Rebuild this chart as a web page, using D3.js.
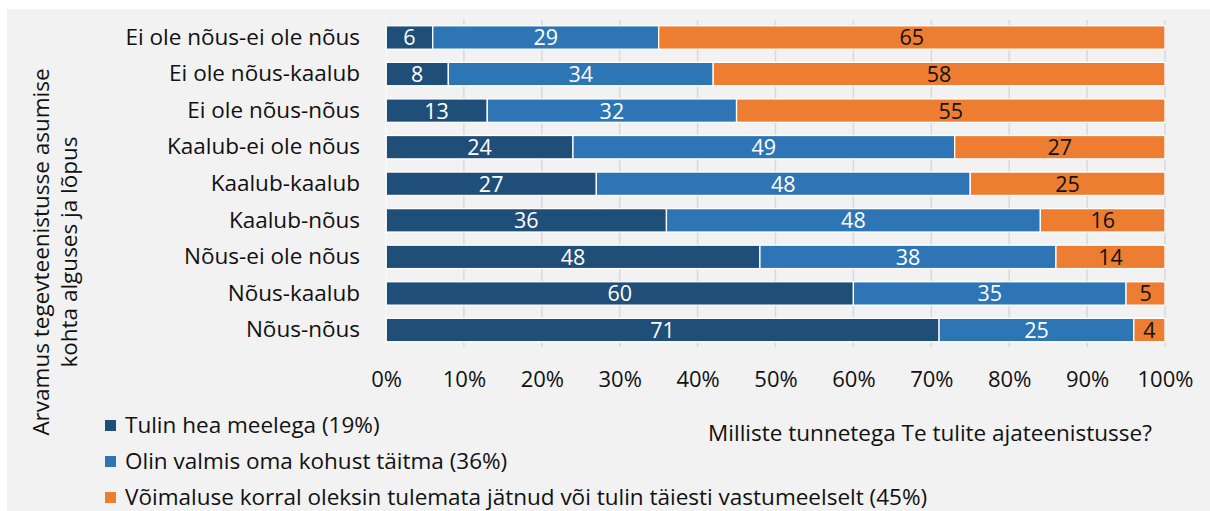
<!DOCTYPE html>
<html>
<head>
<meta charset="utf-8">
<script src="https://cdn.jsdelivr.net/npm/d3@7"></script>
<style>
  html, body { margin: 0; padding: 0; background: #ffffff; }
  svg { display: block; }
  text { font-family: "Open Sans", "Noto Sans", sans-serif; }
</style>
</head>
<body>
<svg id="chart" width="1210" height="511"></svg>
<script>
// Opinion on joining active service, at the start and end
const categories = [
  "Ei ole nõus-ei ole nõus",
  "Ei ole nõus-kaalub",
  "Ei ole nõus-nõus",
  "Kaalub-ei ole nõus",
  "Kaalub-kaalub",
  "Kaalub-nõus",
  "Nõus-ei ole nõus",
  "Nõus-kaalub",
  "Nõus-nõus"
];

const seriesNames = [
  "Tulin hea meelega (19%)",
  "Olin valmis oma kohust täitma (36%)",
  "Võimaluse korral oleksin tulemata jätnud või tulin täiesti vastumeelselt (45%)"
];

const gladly   = [6, 8, 13, 24, 27, 36, 48, 60, 71];
const dutiful  = [29, 34, 32, 49, 48, 48, 38, 35, 25];
const reluctant = [65, 58, 55, 27, 25, 16, 14, 5, 4];

const tickValues = [0, 0.1, 0.2, 0.3, 0.4, 0.5, 0.6, 0.7, 0.8, 0.9, 1.0];

const colors = ["#1f4e79", "#2e75b6", "#ed7d31"];
const labelColors = ["#ffffff", "#ffffff", "#111111"];

const FONT = '"Open Sans", "Noto Sans", sans-serif';
const svg = d3.select("#chart");

// panel background
svg.append("rect")
  .attr("x", 7).attr("y", 9)
  .attr("width", 1210 - 7).attr("height", 511 - 9)
  .attr("fill", "#f2f2f2");

const x = d3.scaleLinear().domain([0, 1]).range([386, 1165]);
const y = d3.scaleBand().domain(categories).range([19.2, 348.3]).paddingInner(0.36).paddingOuter(0.18);

// vertical gridlines
svg.append("g")
  .selectAll("line")
  .data(tickValues)
  .join("line")
  .attr("x1", d => x(d)).attr("x2", d => x(d))
  .attr("y1", 20).attr("y2", 347)
  .attr("stroke", "#d9d9d9")
  .attr("stroke-width", 1.5);

// stacked shares
const rows = categories.map((c, i) => {
  const vals = [gladly[i], dutiful[i], reluctant[i]];
  const total = d3.sum(vals);
  let acc = 0;
  return vals.map((v, k) => {
    const s = { cat: c, k, v, x0: acc / total, x1: (acc + v) / total };
    acc += v;
    return s;
  });
});
const segs = rows.flat();

svg.append("g")
  .selectAll("rect")
  .data(segs)
  .join("rect")
  .attr("x", d => x(d.x0))
  .attr("y", d => y(d.cat))
  .attr("width", d => x(d.x1) - x(d.x0))
  .attr("height", y.bandwidth())
  .attr("fill", d => colors[d.k])
  .attr("stroke", "#ffffff")
  .attr("stroke-width", 1.3);

svg.append("g")
  .selectAll("text")
  .data(segs)
  .join("text")
  .attr("x", d => (x(d.x0) + x(d.x1)) / 2)
  .attr("y", d => y(d.cat) + y.bandwidth() / 2)
  .attr("dy", "0.37em")
  .attr("text-anchor", "middle")
  .attr("font-size", 21.5)
  .attr("fill", d => labelColors[d.k])
  .text(d => d.v);

// left axis line
svg.append("line")
  .attr("x1", 386).attr("x2", 386)
  .attr("y1", 20).attr("y2", 347)
  .attr("stroke", "#ffffff")
  .attr("stroke-width", 1.5);

// category labels
const yAxis = d3.axisLeft(y).tickSize(0).tickPadding(26);
const yg = svg.append("g").attr("transform", "translate(386,0)").call(yAxis);
yg.select(".domain").remove();
yg.selectAll("text")
  .attr("font-size", 22.5)
  .attr("fill", "#111111")
  .style("font-family", FONT);

// percentage axis
const xAxis = d3.axisBottom(x).tickValues(tickValues).tickFormat(d3.format(".0%")).tickSize(0).tickPadding(0);
const xg = svg.append("g").attr("transform", "translate(0,371)").call(xAxis);
xg.select(".domain").remove();
xg.selectAll("text")
  .attr("font-size", 22)
  .attr("fill", "#111111")
  .style("font-family", FONT);

// axis titles
svg.append("text")
  .attr("x", 930).attr("y", 441)
  .attr("text-anchor", "middle")
  .attr("font-size", 22.5)
  .attr("fill", "#111111")
  .text("Milliste tunnetega Te tulite ajateenistusse?");

const yTitle = svg.append("text")
  .attr("transform", "translate(49,252) rotate(-90)")
  .attr("text-anchor", "middle")
  .attr("font-size", 22.5)
  .attr("fill", "#111111");
yTitle.append("tspan").attr("x", 0).attr("dy", 0).text("Arvamus tegevteenistusse asumise");
yTitle.append("tspan").attr("x", 0).attr("dy", 28).text("kohta alguses ja lõpus");

// legend
const legend = svg.append("g")
  .selectAll("g")
  .data(seriesNames)
  .join("g")
  .attr("transform", (d, i) => `translate(105,${425 + i * 36})`);
legend.append("rect")
  .attr("x", 0).attr("y", -5)
  .attr("width", 11).attr("height", 11)
  .attr("fill", (d, i) => colors[i]);
legend.append("text")
  .attr("x", 20).attr("y", 0)
  .attr("dy", "0.36em")
  .attr("font-size", 22.5)
  .attr("fill", "#111111")
  .text(d => d);
</script>
</body>
</html>
